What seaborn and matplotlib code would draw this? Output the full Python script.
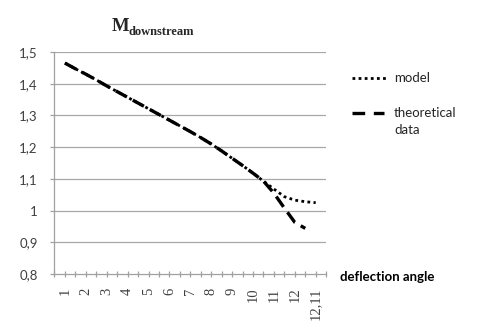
import numpy as np
import pandas as pd
import matplotlib
matplotlib.use("Agg")
import matplotlib.pyplot as plt
import seaborn as sns

# category positions (1..25) and labels shown every other category
positions = list(range(1, 26))
tick_labels = ["1", "2", "3", "4", "5", "6", "7", "8", "9", "10", "11", "12", "12,11"]
model = [1.465, 1.447, 1.430, 1.412, 1.393, 1.375, 1.357, 1.339, 1.321, 1.303,
         1.285, 1.267, 1.249, 1.230, 1.210, 1.188, 1.165, 1.142, 1.118, 1.093,
         1.068, 1.044, 1.033, 1.028, 1.025]
theoretical = [1.465, 1.447, 1.430, 1.412, 1.393, 1.375, 1.357, 1.339, 1.321, 1.303,
               1.285, 1.267, 1.249, 1.230, 1.210, 1.188, 1.165, 1.142, 1.118, 1.093,
               1.055, 1.008, 0.963, 0.944]
y_ticks = [0.8, 0.9, 1.0, 1.1, 1.2, 1.3, 1.4, 1.5]
y_labels = ["0,8", "0,9", "1", "1,1", "1,2", "1,3", "1,4", "1,5"]

sns.set_theme(style="white")
plt.rcParams["font.family"] = ["Lato", "DejaVu Sans"]

fig = plt.figure(figsize=(4.8, 3.31), dpi=100)
ax = fig.add_axes([0.1135, 0.172, 0.566, 0.671])

df_t = pd.DataFrame({"x": positions[:len(theoretical)], "y": theoretical})
df_m = pd.DataFrame({"x": positions, "y": model})

sns.lineplot(data=df_t, x="x", y="y", ax=ax, color="black", linewidth=2.4,
             linestyle=(0, (3.8, 2.0)), dash_capstyle="butt", label="theoretical data")
sns.lineplot(data=df_m, x="x", y="y", ax=ax, color="black", linewidth=2.0,
             linestyle=(0, (1.0, 1.2)), dash_capstyle="butt", label="model")
ax.get_legend().remove()

ax.set_xlim(0, 26)
ax.set_ylim(0.8, 1.5)
ax.set_yticks(y_ticks)
ax.set_yticklabels(y_labels, color="#404040", fontsize=9.5)
ax.set_xticks(list(range(1, 26, 2)))
ax.set_xticklabels(tick_labels, rotation=90, family=["Liberation Serif"],
                   color="#404040", fontsize=10.5)
ax.set_xticks(list(range(0, 27)), minor=True)
ax.set_xlabel("")
ax.set_ylabel("")

for y in y_ticks[1:]:
    ax.axhline(y, color="#a8a8a8", linewidth=0.9, zorder=0)

for s in ["top", "right"]:
    ax.spines[s].set_visible(False)
for s in ["left", "bottom"]:
    ax.spines[s].set_color("#a0a0a0")
    ax.spines[s].set_linewidth(0.9)

ax.tick_params(axis="y", which="major", direction="out", length=3, width=0.9,
               color="#a0a0a0", pad=9, left=True)
ax.tick_params(axis="x", which="both", direction="inout", length=5, width=0.9,
               color="#a0a0a0", bottom=True)
ax.tick_params(axis="x", which="major", pad=7)

# title
fig.text(0.233, 0.905, "M", family=["Liberation Serif"], fontweight="bold",
         fontsize=13.5, ha="left", va="baseline")
fig.text(0.267, 0.905 - 0.012, "downstream", family=["Liberation Serif"],
         fontweight="bold", fontsize=9, ha="left", va="baseline")

# x-axis label
fig.text(0.708, 0.163, "deflection angle", fontweight="bold", fontsize=9.5,
         ha="left", va="center", color="black")

# legend
from matplotlib.lines import Line2D
ax_leg_x0, ax_leg_x1 = 0.733, 0.808
fig.add_artist(Line2D([ax_leg_x0, ax_leg_x1], [1 - 77.7 / 331] * 2, color="black",
                      linewidth=2.0, linestyle=(0, (1.0, 1.2)), dash_capstyle="butt",
                      transform=fig.transFigure))
fig.add_artist(Line2D([ax_leg_x0, 0.800], [1 - 113 / 331] * 2, color="black",
                      linewidth=2.4, linestyle=(0, (3.8, 2.6)), dash_capstyle="butt",
                      transform=fig.transFigure))
fig.text(0.821, 1 - 77.7 / 331, "model", fontsize=9.5, va="center", ha="left",
         color="#262626")
fig.text(0.821, 1 - 113 / 331, "theoretical", fontsize=9.5, va="center", ha="left",
         color="#262626")
fig.text(0.821, 1 - 130 / 331, "data", fontsize=9.5, va="center", ha="left",
         color="#262626")

fig.savefig("out.png", dpi=100, facecolor="white")
